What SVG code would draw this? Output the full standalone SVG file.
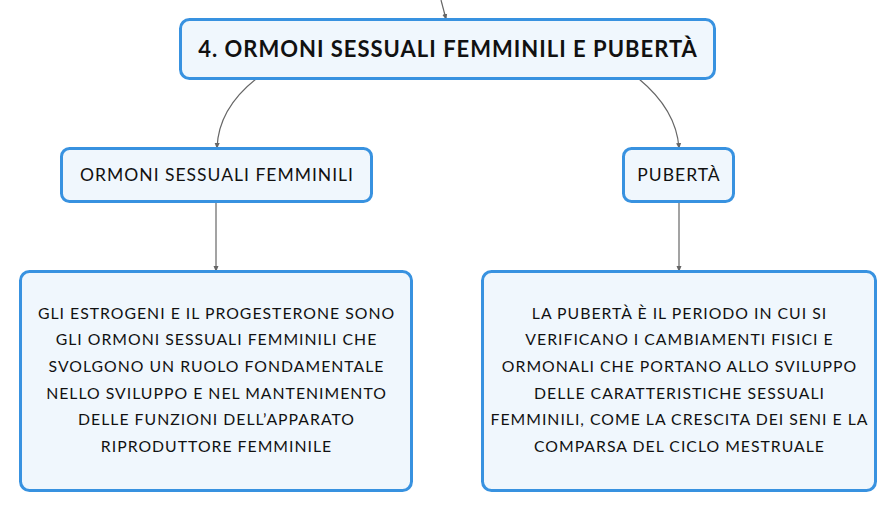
<svg xmlns="http://www.w3.org/2000/svg" width="896" height="511" viewBox="0 0 896 511">
<defs>
<style>
.box{fill:#f0f7fd;stroke:#3892e0;stroke-width:3}
.t{font-family:Lato,"Noto Sans",sans-serif;fill:#111;text-anchor:middle}
.title{font-size:22px;font-weight:bold;letter-spacing:1px}
.sub{font-size:17.5px;letter-spacing:1px}
.body{font-size:15.8px;letter-spacing:1px}
.con{fill:none;stroke:#666;stroke-width:1.2}
</style>
<marker id="arr" viewBox="0 0 6 6" refX="5" refY="3" markerWidth="5" markerHeight="5" orient="auto">
<path d="M0,0.5 L6,3 L0,5.5 z" fill="#666"/>
</marker>
</defs>
<rect width="896" height="511" fill="#ffffff"/>
<g id="connectors">
<path class="con" d="M441,0 L446,19" marker-end="url(#arr)"/>
<path class="con" d="M256,79 C232,98 218,120 217,148" marker-end="url(#arr)"/>
<path class="con" d="M639,79 C662,98 677,120 679,148" marker-end="url(#arr)"/>
<path class="con" d="M216,202 L216,271" marker-end="url(#arr)"/>
<path class="con" d="M679,202 L679,271" marker-end="url(#arr)"/>
</g>
<g id="main">
<rect class="box" x="180.5" y="19.5" width="534" height="59" rx="9"/>
<text class="t title" x="448" y="57">4. ORMONI SESSUALI FEMMINILI E PUBERTÀ</text>
</g>
<g id="ormoni">
<rect class="box" x="61.5" y="148.5" width="310" height="53" rx="8"/>
<text class="t sub" x="217" y="181">ORMONI SESSUALI FEMMINILI</text>
</g>
<g id="puberta">
<rect class="box" x="623.5" y="148.5" width="110" height="53" rx="8"/>
<text class="t sub" x="679" y="181">PUBERTÀ</text>
</g>
<g id="ormoni-desc">
<rect class="box" x="20.5" y="271.5" width="391" height="219" rx="9"/>
<text class="t body" x="216.5" y="318.5">GLI ESTROGENI E IL PROGESTERONE SONO</text>
<text class="t body" x="216.5" y="345.2">GLI ORMONI SESSUALI FEMMINILI CHE</text>
<text class="t body" x="216.5" y="371.9">SVOLGONO UN RUOLO FONDAMENTALE</text>
<text class="t body" x="216.5" y="398.6">NELLO SVILUPPO E NEL MANTENIMENTO</text>
<text class="t body" x="216.5" y="425.3">DELLE FUNZIONI DELL’APPARATO</text>
<text class="t body" x="216.5" y="452">RIPRODUTTORE FEMMINILE</text>
</g>
<g id="puberta-desc">
<rect class="box" x="482.5" y="271.5" width="393" height="219" rx="9"/>
<text class="t body" x="679.5" y="318.5">LA PUBERTÀ È IL PERIODO IN CUI SI</text>
<text class="t body" x="679.5" y="345.2">VERIFICANO I CAMBIAMENTI FISICI E</text>
<text class="t body" x="679.5" y="371.9">ORMONALI CHE PORTANO ALLO SVILUPPO</text>
<text class="t body" x="679.5" y="398.6">DELLE CARATTERISTICHE SESSUALI</text>
<text class="t body" x="679.5" y="425.3">FEMMINILI, COME LA CRESCITA DEI SENI E LA</text>
<text class="t body" x="679.5" y="452">COMPARSA DEL CICLO MESTRUALE</text>
</g>
</svg>
